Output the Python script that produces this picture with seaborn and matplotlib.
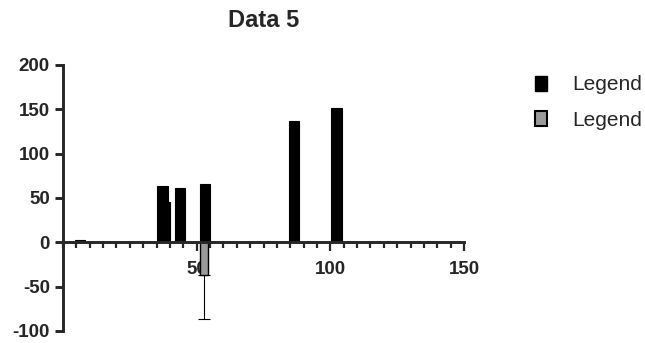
import matplotlib
matplotlib.use("Agg")
import matplotlib.pyplot as plt
from matplotlib.patches import Patch
from matplotlib.ticker import MultipleLocator
import seaborn as sns

# values
black_x = [6.3, 38.0, 37.2, 43.7, 53.1, 86.5, 102.3]
black_y = [3, 45, 63, 61, 66, 137, 151]
grey_x = [52.7]
grey_y = [-37]
grey_err = [50]
legend_labels = ["Legend", "Legend"]
yticks = [-100, -50, 0, 50, 100, 150, 200]
xticks = [50, 100, 150]

sns.set_style("ticks")
plt.rcParams['font.family'] = ['Liberation Sans', 'DejaVu Sans']
plt.rcParams['axes.unicode_minus'] = False

fig = plt.figure(figsize=(6.45, 3.43), dpi=100)
ax = fig.add_axes([0.0977, 0.035, 0.6217, 0.7755])

bw = 3.85
ax.bar(black_x, black_y, width=bw, color="black", edgecolor="black", linewidth=0.8, zorder=3)
ax.bar(grey_x, grey_y, width=bw * 0.8, color="#9a9a9a", edgecolor="black", linewidth=1.0, zorder=4)
ax.errorbar(grey_x, grey_y, yerr=[grey_err, [0]], fmt="none", ecolor="black",
            elinewidth=0.8, capsize=4, capthick=0.8, zorder=2)

ax.set_xlim(0, 150)
ax.set_ylim(-100, 200)
ax.set_yticks(yticks)
ax.set_xticks(xticks)
ax.xaxis.set_minor_locator(MultipleLocator(5))

sns.despine(ax=ax)
ax.spines['bottom'].set_position(('data', 0))
ax.spines['bottom'].set_linewidth(2.1)
ax.spines['left'].set_linewidth(2.1)
ax.spines['bottom'].set_zorder(5)

ax.tick_params(axis='y', length=6, width=2.1, pad=3.5, labelsize=13.5)
ax.tick_params(axis='x', which='major', length=6.5, width=1.6, pad=7, labelsize=13.5)
ax.tick_params(axis='x', which='minor', length=4, width=1.6)
for lab in ax.get_xticklabels() + ax.get_yticklabels():
    lab.set_fontweight('bold')

ax.set_title("Data 5", fontsize=17, fontweight='bold', pad=27)

handles = [Patch(facecolor="black", edgecolor="black"),
           Patch(facecolor="#9a9a9a", edgecolor="black", linewidth=1.5)]
fig.legend(handles, legend_labels, loc="upper left", bbox_to_anchor=(0.829, 0.78),
           frameon=False, fontsize=15, handlelength=0.58, handleheight=0.72,
           handletextpad=1.2, labelspacing=0.8, borderpad=0, borderaxespad=0)

fig.savefig("out.png", dpi=100)
